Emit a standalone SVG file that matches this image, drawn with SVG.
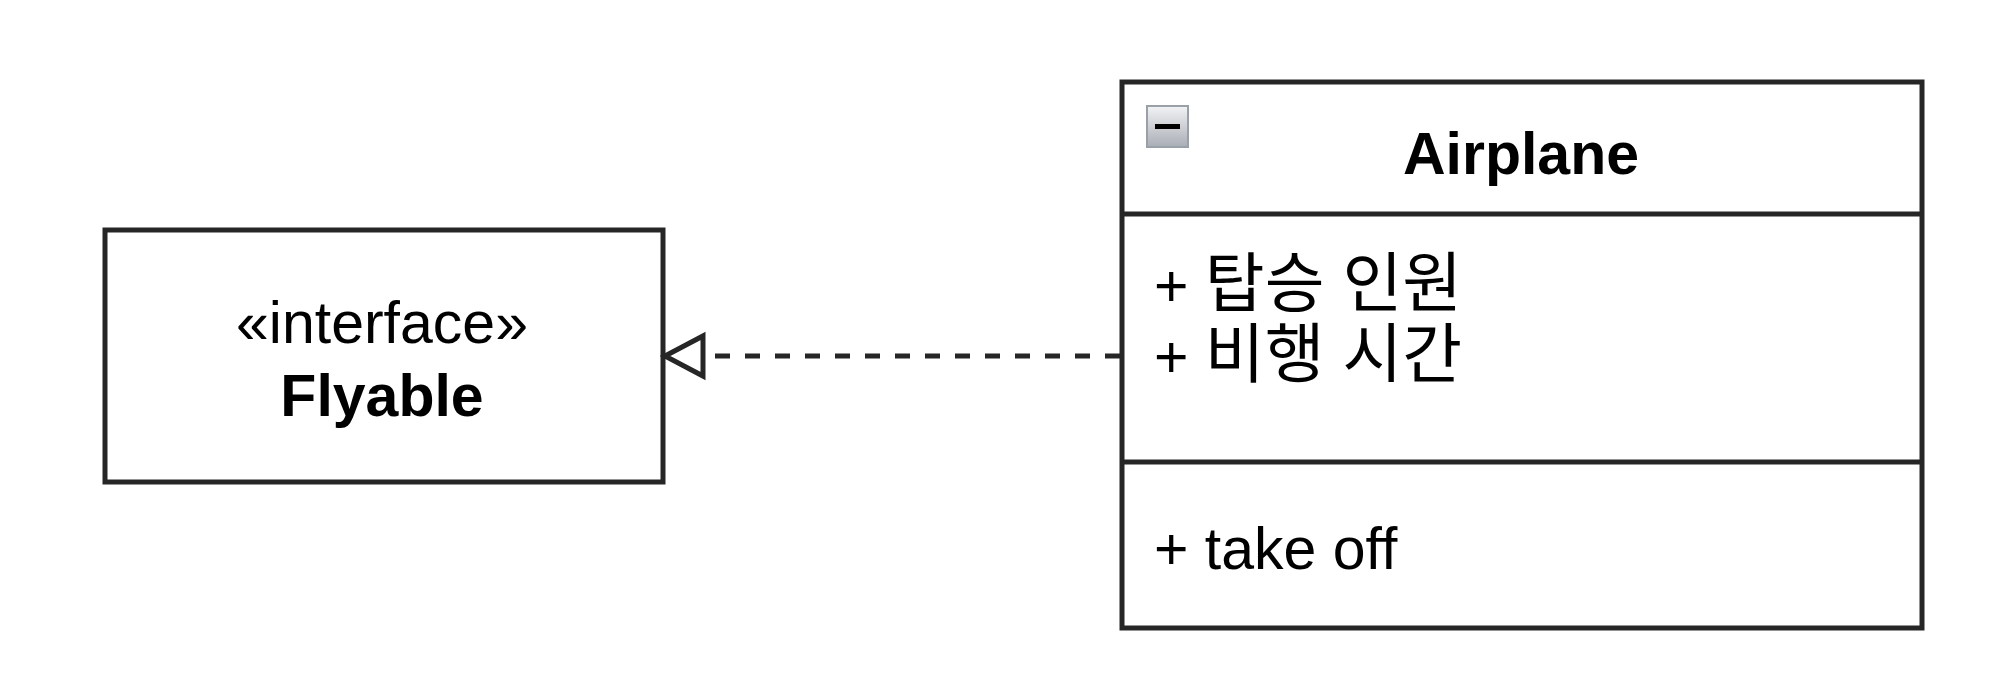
<svg xmlns="http://www.w3.org/2000/svg" width="2000" height="697" viewBox="0 0 2000 697">
<style>
.box{fill:#fff;stroke:#262626;stroke-width:5}
.t{font-family:"Liberation Sans","Noto Sans CJK KR",Arial,sans-serif;font-size:59px;fill:#000}
.ko{font-size:65px}
.b{font-weight:bold}
.c{text-anchor:middle}
.conn{fill:none;stroke:#262626;stroke-width:5}
</style>
<defs>
<linearGradient id="g" x1="0" y1="0" x2="0" y2="1">
<stop offset="0" stop-color="#f2f3f5"/>
<stop offset="1" stop-color="#a9adb5"/>
</linearGradient>
</defs>
<g id="flyable">
<rect class="box" x="105" y="230" width="558" height="252"/>
<text class="t c" x="382" y="343">«interface»</text>
<text class="t c b" x="382" y="416">Flyable</text>
</g>
<g id="airplane">
<rect class="box" x="1122" y="82" width="800" height="546"/>
<line class="box" x1="1122" y1="214" x2="1922" y2="214"/>
<line class="box" x1="1122" y1="462" x2="1922" y2="462"/>
<rect x="1147" y="106" width="41" height="41" fill="url(#g)" stroke="#9aa0a8" stroke-width="2"/>
<rect x="1155" y="124" width="25" height="5" fill="#000"/>
<text class="t c b" x="1521" y="174">Airplane</text>
<text class="t" x="1154" y="306">+ <tspan class="ko">탑승 인원</tspan></text>
<text class="t" x="1154" y="377">+ <tspan class="ko">비행 시간</tspan></text>
<text class="t" x="1154" y="569">+ take off</text>
</g>
<g id="connectors">
<line class="conn" x1="1120" y1="356" x2="704" y2="356" stroke-dasharray="15 15"/>
<polygon class="conn" points="665,356 703,336 703,376" fill="#fff"/>
</g>
</svg>
